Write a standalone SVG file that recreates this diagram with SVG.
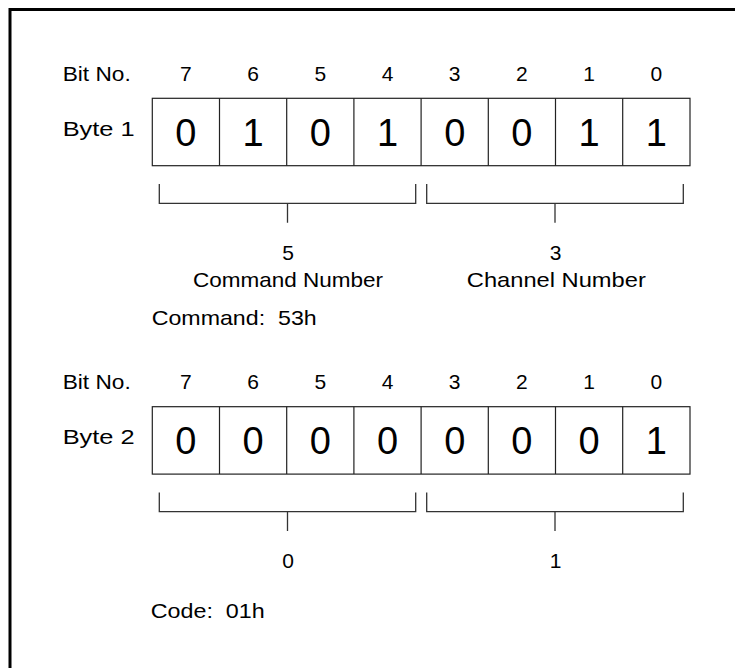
<svg xmlns="http://www.w3.org/2000/svg" width="735" height="668" viewBox="0 0 735 668">
<style>
text{font-family:"Liberation Sans",Arial,sans-serif;fill:#000;white-space:pre}
.lbl{font-size:21px}
.bit{font-size:21px;text-anchor:middle}
.val{font-size:38px;text-anchor:middle}
.mid{font-size:21px;text-anchor:middle}
.cell{fill:#fff;stroke:#222;stroke-width:1.2}
.br{fill:none;stroke:#333;stroke-width:1.3}
.frame{fill:none;stroke:#000;stroke-width:3}
</style>
<path class="frame" d="M10,668 V9.5 H735"/>

<g id="byte1">
  <text class="lbl" x="62.7" y="80.7" textLength="68" lengthAdjust="spacingAndGlyphs">Bit No.</text>
  <text class="lbl" x="62.7" y="136" textLength="72" lengthAdjust="spacingAndGlyphs">Byte 1</text>
  <g>
    <text class="bit" x="185.9" y="81">7</text>
    <text class="bit" x="253.1" y="81">6</text>
    <text class="bit" x="320.3" y="81">5</text>
    <text class="bit" x="387.5" y="81">4</text>
    <text class="bit" x="454.7" y="81">3</text>
    <text class="bit" x="521.9" y="81">2</text>
    <text class="bit" x="589.1" y="81">1</text>
    <text class="bit" x="656.3" y="81">0</text>
  </g>
  <rect class="cell" x="152.3" y="98.3" width="537.7" height="67.4"/>
  <path class="cell" d="M219.5,98.3V165.7M286.7,98.3V165.7M353.9,98.3V165.7M421.1,98.3V165.7M488.3,98.3V165.7M555.5,98.3V165.7M622.7,98.3V165.7"/>
  <g>
    <text class="val" x="185.9" y="145.7">0</text>
    <text class="val" x="253.1" y="145.7">1</text>
    <text class="val" x="320.3" y="145.7">0</text>
    <text class="val" x="387.5" y="145.7">1</text>
    <text class="val" x="454.7" y="145.7">0</text>
    <text class="val" x="521.9" y="145.7">0</text>
    <text class="val" x="589.1" y="145.7">1</text>
    <text class="val" x="656.3" y="145.7">1</text>
  </g>
</g>

<g id="connectors1">
  <path class="br" d="M159.3,184V203.3H415.7V184M287.5,203.3V222.7"/>
  <path class="br" d="M426.7,184V203.3H683.3V184M555,203.3V222.7"/>
</g>

<g id="labels1">
  <text class="mid" x="288" y="260">5</text>
  <text class="mid" x="288" y="286.7" textLength="190" lengthAdjust="spacingAndGlyphs">Command Number</text>
  <text class="mid" x="555.5" y="260">3</text>
  <text class="mid" x="556.3" y="286.7" textLength="179" lengthAdjust="spacingAndGlyphs">Channel Number</text>
  <text class="lbl" x="151.7" y="325" textLength="165" lengthAdjust="spacingAndGlyphs">Command:  53h</text>
</g>

<g id="byte2">
  <text class="lbl" x="62.7" y="389.1" textLength="68" lengthAdjust="spacingAndGlyphs">Bit No.</text>
  <text class="lbl" x="62.7" y="444.4" textLength="72" lengthAdjust="spacingAndGlyphs">Byte 2</text>
  <g>
    <text class="bit" x="185.9" y="389.4">7</text>
    <text class="bit" x="253.1" y="389.4">6</text>
    <text class="bit" x="320.3" y="389.4">5</text>
    <text class="bit" x="387.5" y="389.4">4</text>
    <text class="bit" x="454.7" y="389.4">3</text>
    <text class="bit" x="521.9" y="389.4">2</text>
    <text class="bit" x="589.1" y="389.4">1</text>
    <text class="bit" x="656.3" y="389.4">0</text>
  </g>
  <rect class="cell" x="152.3" y="406.7" width="537.7" height="67.4"/>
  <path class="cell" d="M219.5,406.7V474.1M286.7,406.7V474.1M353.9,406.7V474.1M421.1,406.7V474.1M488.3,406.7V474.1M555.5,406.7V474.1M622.7,406.7V474.1"/>
  <g>
    <text class="val" x="185.9" y="454.1">0</text>
    <text class="val" x="253.1" y="454.1">0</text>
    <text class="val" x="320.3" y="454.1">0</text>
    <text class="val" x="387.5" y="454.1">0</text>
    <text class="val" x="454.7" y="454.1">0</text>
    <text class="val" x="521.9" y="454.1">0</text>
    <text class="val" x="589.1" y="454.1">0</text>
    <text class="val" x="656.3" y="454.1">1</text>
  </g>
</g>

<g id="connectors2">
  <path class="br" d="M159.3,492.4V511.7H415.7V492.4M287.5,511.7V531"/>
  <path class="br" d="M426.7,492.4V511.7H683.3V492.4M555,511.7V531"/>
</g>

<g id="labels2">
  <text class="mid" x="288" y="568.3">0</text>
  <text class="mid" x="555.5" y="568.3">1</text>
  <text class="lbl" x="150.7" y="617.7" textLength="114" lengthAdjust="spacingAndGlyphs">Code:  01h</text>
</g>
</svg>
